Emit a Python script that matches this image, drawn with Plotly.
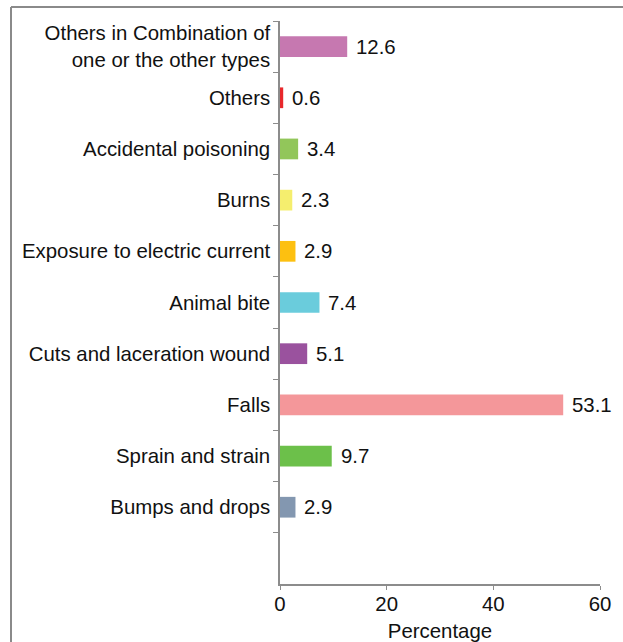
import plotly.graph_objects as go

# Injury types, bottom to top
categories = [
    "Bumps and drops",
    "Sprain and strain",
    "Falls",
    "Cuts and laceration wound",
    "Animal bite",
    "Exposure to electric current",
    "Burns",
    "Accidental poisoning",
    "Others",
    "Others in Combination of<br>one or the other types",
]
percentages = [2.9, 9.7, 53.1, 5.1, 7.4, 2.9, 2.3, 3.4, 0.6, 12.6]
bar_colors = [
    "#8397B0", "#6CC04A", "#F4979A", "#9A529E", "#6ACCDC",
    "#FDC010", "#F5EE6E", "#92C65A", "#E8282B", "#C678B0",
]
x_ticks = [0, 20, 40, 60]

FONT = "Liberation Sans, Arial, sans-serif"
FS = 20.4
AXIS_GREY = "#8C8C8C"

fig = go.Figure(
    go.Bar(
        x=percentages,
        y=categories,
        orientation="h",
        marker=dict(color=bar_colors, line=dict(width=0)),
        hoverinfo="x+y",
    )
)

# value labels just past the end of each bar
for v, c in zip(percentages, categories):
    fig.add_annotation(
        x=v, y=c, text=f"{v}", showarrow=False,
        xanchor="left", yanchor="middle", xshift=7,
        font=dict(family=FONT, size=FS, color="#111111"),
    )

fig.update_layout(
    width=623,
    height=642,
    margin=dict(l=280, r=23, t=21, b=58),
    paper_bgcolor="white",
    plot_bgcolor="white",
    bargap=0.595,
    showlegend=False,
    font=dict(family=FONT, size=FS, color="#111111"),
    xaxis=dict(
        range=[0, 60],
        tickvals=x_ticks,
        ticks="outside",
        ticklen=4,
        tickcolor=AXIS_GREY,
        showline=True,
        linecolor=AXIS_GREY,
        linewidth=1.5,
        showgrid=False,
        zeroline=False,
        automargin=False,
        ticklabelstandoff=-3,
        tickfont=dict(size=FS),
        title=dict(text="Percentage", font=dict(size=FS), standoff=11),
    ),
    yaxis=dict(
        type="category",
        categoryorder="array",
        categoryarray=categories,
        range=[-1.5, 9.5],
        tickson="boundaries",
        ticks="outside",
        ticklen=5,
        tickcolor=AXIS_GREY,
        showline=True,
        linecolor=AXIS_GREY,
        linewidth=1.5,
        showgrid=False,
        zeroline=False,
        automargin=False,
        ticklabelstandoff=4,
        tickfont=dict(size=FS),
    ),
)

# outer frame: top and left edges
fig.add_shape(type="line", xref="paper", yref="paper",
              x0=-(280 - 11) / 320, x1=(623 - 280) / 320,
              y0=1 + (21 - 7) / 563, y1=1 + (21 - 7) / 563,
              line=dict(color="#8A8A8A", width=2))
fig.add_shape(type="line", xref="paper", yref="paper",
              x0=-(280 - 11) / 320, x1=-(280 - 11) / 320,
              y0=-(642 - 584) / 563, y1=1 + (21 - 7) / 563,
              line=dict(color="#8A8A8A", width=2))

fig.write_html("out.html")
